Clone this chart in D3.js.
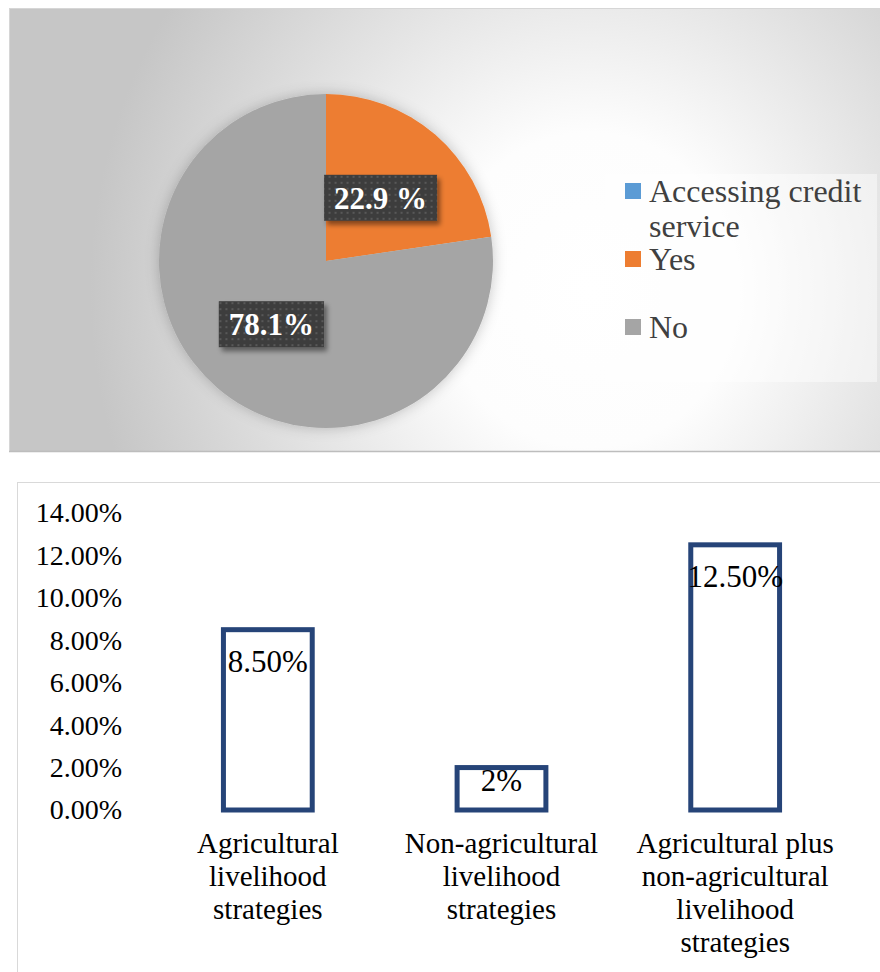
<!DOCTYPE html>
<html>
<head>
<meta charset="utf-8">
<script src="https://cdn.jsdelivr.net/npm/d3@7"></script>
<style>
  html, body { margin: 0; padding: 0; background: #ffffff; }
  svg { display: block; }
</style>
</head>
<body>
<svg id="chart" width="880" height="972"></svg>
<script>
// ---- Pie: access to credit service ----
const pieCategories = ["Yes", "No"];
const pieValues = [22.9, 78.1];
const pieLabels = ["22.9 %", "78.1%"];
const pieColors = ["#ed7d31", "#a5a5a5"];
const legendNames = [["Accessing credit", "service"], ["Yes"], ["No"]];
const legendColors = ["#5b9bd5", "#ed7d31", "#a5a5a5"];

// ---- Bars: share by livelihood strategy ----
const barCategories = [
  ["Agricultural", "livelihood", "strategies"],
  ["Non-agricultural", "livelihood", "strategies"],
  ["Agricultural plus", "non-agricultural", "livelihood", "strategies"]
];
const barValues = [8.5, 2, 12.5];
const barLabels = ["8.50%", "2%", "12.50%"];
const yTickValues = [0, 2, 4, 6, 8, 10, 12, 14];

const FONT = "Liberation Serif";

const svg = d3.select("#chart").attr("font-family", FONT);
const defs = svg.append("defs");

// background of the upper panel
const bg = defs.append("radialGradient")
  .attr("id", "panelBg")
  .attr("gradientUnits", "userSpaceOnUse")
  .attr("cx", 590).attr("cy", 290).attr("r", 500)
  .attr("gradientTransform", "translate(590,290) scale(1,1.05) translate(-590,-290)");
bg.append("stop").attr("offset", 0).attr("stop-color", "#ffffff");
bg.append("stop").attr("offset", 0.3).attr("stop-color", "#fdfdfd");
bg.append("stop").attr("offset", 1).attr("stop-color", "#c6c6c6");

// soft halo round the pie
const glow = defs.append("filter").attr("id", "pieGlow")
  .attr("x", "-20%").attr("y", "-20%").attr("width", "140%").attr("height", "140%");
glow.append("feDropShadow").attr("dx", 0).attr("dy", 0)
  .attr("stdDeviation", 7).attr("flood-color", "#000").attr("flood-opacity", 0.22);

// dotted dark fill of the data-label boxes
const dots = defs.append("pattern").attr("id", "dotFill")
  .attr("patternUnits", "userSpaceOnUse").attr("width", 6).attr("height", 6);
dots.append("rect").attr("width", 6).attr("height", 6).attr("fill", "#3e3e3e");
dots.append("rect").attr("x", 2).attr("y", 2).attr("width", 2).attr("height", 2).attr("fill", "#585858");

const boxShadow = defs.append("filter").attr("id", "boxShadow")
  .attr("x", "-20%").attr("y", "-30%").attr("width", "150%").attr("height", "170%");
boxShadow.append("feDropShadow").attr("dx", 3).attr("dy", 4)
  .attr("stdDeviation", 2.5).attr("flood-color", "#000").attr("flood-opacity", 0.45);

// ---------- upper panel ----------
const upper = svg.append("g");
upper.append("rect")
  .attr("x", 9.5).attr("y", 8.5).attr("width", 880).attr("height", 443)
  .attr("fill", "url(#panelBg)").attr("stroke", "#d6d6d6");
upper.append("line")
  .attr("x1", 9).attr("x2", 880).attr("y1", 451.5).attr("y2", 451.5)
  .attr("stroke", "#bdbdbd").attr("stroke-width", 1.5);

const pieCx = 326, pieCy = 261, pieR = 167;
const pie = d3.pie().sort(null).value(d => d)(pieValues);
const arc = d3.arc().innerRadius(0).outerRadius(pieR);

const pieG = upper.append("g").attr("transform", `translate(${pieCx},${pieCy})`);
pieG.append("g").attr("filter", "url(#pieGlow)")
  .selectAll("path").data(pie).join("path")
  .attr("d", arc)
  .attr("fill", (d, i) => pieColors[i]);

// data labels on dark boxes
const labelG = pieG.selectAll("g.lbl").data(pie).join("g")
  .attr("class", "lbl")
  .attr("transform", d => `translate(${arc.centroid(d)})`);
labelG.each(function(d, i) {
  const g = d3.select(this);
  const box = g.append("rect").attr("fill", "url(#dotFill)").attr("filter", "url(#boxShadow)");
  const t = g.append("text")
    .attr("font-family", FONT)
    .attr("text-anchor", "middle")
    .attr("y", 11)
    .attr("fill", "#ffffff")
    .attr("font-weight", "bold")
    .attr("font-size", 31)
    .text(pieLabels[i]);
  const w = t.node().getBBox().width + 20;
  box.attr("x", -w / 2).attr("y", -23).attr("width", w).attr("height", 46);
});

// legend
const legend = upper.append("g");
legend.append("rect")
  .attr("x", 605).attr("y", 174).attr("width", 272).attr("height", 208)
  .attr("fill", "#ffffff").attr("fill-opacity", 0.45);
const legendBaselines = [202, 270, 338];
legendNames.forEach((lines, i) => {
  const by = legendBaselines[i];
  legend.append("rect")
    .attr("x", 625).attr("y", by - 19).attr("width", 16).attr("height", 16)
    .attr("fill", legendColors[i]);
  const t = legend.append("text")
    .attr("font-family", FONT)
    .attr("x", 649).attr("y", by)
    .attr("font-size", 32).attr("fill", "#404040");
  lines.forEach((ln, j) => {
    t.append("tspan").attr("x", 649).attr("dy", j === 0 ? 0 : 35).text(ln);
  });
});

// ---------- lower panel ----------
const lower = svg.append("g");
lower.append("rect")
  .attr("x", 17.5).attr("y", 482.5).attr("width", 880).attr("height", 500)
  .attr("fill", "#ffffff").attr("stroke", "#d9d9d9");

const y = d3.scaleLinear().domain([0, 14]).range([810, 513]);
const x = d3.scaleBand()
  .domain(d3.range(barValues.length))
  .range([151, 852])
  .paddingInner(0.62)
  .paddingOuter(0.31);

const yAxis = d3.axisLeft(y)
  .tickValues(yTickValues)
  .tickFormat(d => d.toFixed(2) + "%")
  .tickSize(0).tickPadding(0);
const yg = lower.append("g").attr("transform", "translate(122,0)").call(yAxis);
yg.attr("font-family", FONT).attr("font-size", 28);
yg.select(".domain").remove();
yg.selectAll("text")
  .attr("font-family", FONT)
  .attr("font-size", 28).attr("fill", "#000");

lower.selectAll("rect.bar").data(barValues).join("rect")
  .attr("class", "bar")
  .attr("x", (d, i) => x(i))
  .attr("width", x.bandwidth())
  .attr("y", d => y(d))
  .attr("height", d => y(0) - y(d))
  .attr("fill", "#ffffff")
  .attr("stroke", "#264478")
  .attr("stroke-width", 5);

lower.selectAll("text.barLbl").data(barValues).join("text")
  .attr("class", "barLbl")
  .attr("font-family", FONT)
  .attr("x", (d, i) => x(i) + x.bandwidth() / 2)
  .attr("y", d => y(d) + Math.min(42, (y(0) - y(d)) * 0.55))
  .attr("text-anchor", "middle")
  .attr("font-size", 31).attr("fill", "#000")
  .text((d, i) => barLabels[i]);

const catG = lower.selectAll("text.cat").data(barCategories).join("text")
  .attr("class", "cat")
  .attr("font-family", FONT)
  .attr("text-anchor", "middle")
  .attr("font-size", 29).attr("fill", "#000")
  .attr("y", y(0) + 43);
catG.each(function(lines, i) {
  const t = d3.select(this);
  const cx = x(i) + x.bandwidth() / 2;
  lines.forEach((ln, j) => {
    t.append("tspan").attr("x", cx).attr("dy", j === 0 ? 0 : 33).text(ln);
  });
});
</script>
</body>
</html>
